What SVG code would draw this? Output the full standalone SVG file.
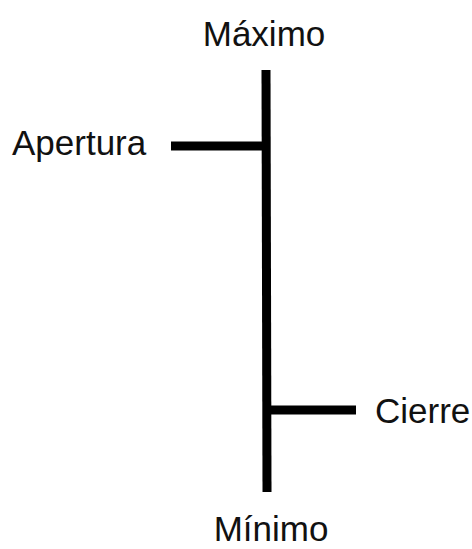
<svg xmlns="http://www.w3.org/2000/svg" width="472" height="549" viewBox="0 0 472 549">
<style>
.lbl{font-family:"Liberation Sans",Arial,sans-serif;font-size:35px;fill:#111}
.bar{stroke:#000;stroke-width:9;fill:none}
</style>
<rect width="472" height="549" fill="#fff"/>
<g id="connectors">
<line class="bar" x1="266" y1="70" x2="267" y2="492"/>
<line class="bar" x1="171" y1="146" x2="266" y2="146"/>
<line class="bar" x1="267" y1="410" x2="356" y2="410"/>
</g>
<g id="maximo"><text class="lbl" x="264" y="46" text-anchor="middle">Máximo</text></g>
<g id="apertura"><text class="lbl" x="12" y="155">Apertura</text></g>
<g id="cierre"><text class="lbl" x="375" y="423">Cierre</text></g>
<g id="minimo"><text class="lbl" x="271" y="541" text-anchor="middle">Mínimo</text></g>
</svg>
